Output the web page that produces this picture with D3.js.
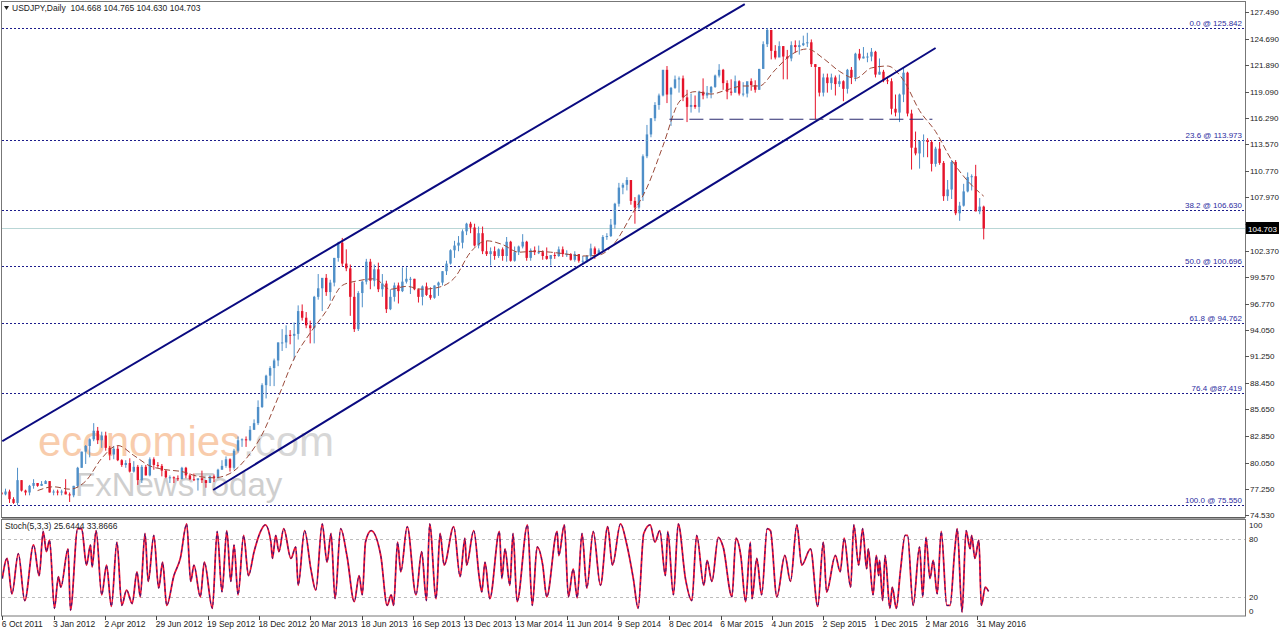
<!DOCTYPE html>
<html><head><meta charset="utf-8">
<script src="https://cdn.jsdelivr.net/npm/d3@7"></script>
<style>
html,body{margin:0;padding:0;background:#fff;}
svg{display:block;font-family:"Liberation Sans",Arial,sans-serif;}
</style></head><body>
<svg id="c" width="1280" height="633"></svg>
<script>
// ---------- DATA ----------
const firstOpen = 76.9;
// weekly candles, week 0 = week of 3 Oct 2011
const weekHigh = [
77.0,77.3,77.2,76.4,79.5,78.2,77.2,77.7,78.3,77.9,78.1,78.2,78.1,
77.2,77.2,77.2,78.3,76.9,77.6,79.6,81.2,81.9,82.6,84.2,83.8,83.3,
83.3,81.8,81.8,81.8,80.4,80.3,80.5,80.2,79.8,79.8,79.8,80.6,80.6,
80.1,79.9,79.3,78.7,78.6,78.7,79.6,79.6,78.9,78.9,78.3,79.2,78.2,
78.7,78.8,79.4,80.3,80.7,80.5,81.5,82.8,82.6,82.8,83.9,84.6,86.6,
88.4,89.3,90.2,91.0,92.7,94.1,94.5,94.0,94.8,96.6,96.7,95.9,95.0,
97.6,99.9,99.0,99.9,99.3,101.6,103.3,103.7,102.5,100.9,99.0,98.1,99.2,
101.5,101.5,100.9,101.1,99.9,99.2,98.3,99.0,99.0,100.6,100.6,99.6,99.4,
98.3,98.7,99.0,98.5,98.7,99.1,100.2,101.3,102.5,103.4,103.9,104.6,105.3,
105.4,105.2,104.9,104.9,103.4,102.7,102.8,102.6,102.7,103.8,103.4,102.8,102.9,
104.1,103.4,102.6,102.8,102.9,102.4,102.7,101.7,102.2,102.8,102.8,102.4,102.1,
102.3,102.0,101.8,101.9,103.1,102.8,102.6,104.0,104.2,105.7,107.4,109.5,109.5,
110.1,109.2,108.0,108.3,112.5,115.6,116.3,118.0,118.9,121.4,121.8,119.6,120.8,
120.7,120.8,119.3,118.9,118.7,119.2,120.5,119.7,119.7,120.9,122.0,121.5,120.3,
120.4,120.8,120.3,120.1,120.1,120.5,120.3,121.5,124.4,125.8,125.6,124.0,124.4,
123.9,123.5,124.4,124.5,124.5,125.0,125.3,124.6,122.0,121.7,121.0,121.0,121.0,
120.8,120.9,120.3,121.5,121.7,123.2,123.6,123.8,123.2,123.7,123.4,122.6,121.4,
120.7,120.5,118.8,118.9,121.7,121.2,117.2,114.9,113.9,114.6,114.2,114.0,113.3,
113.8,111.8,109.8,111.9,111.9,107.5,109.4,110.6,110.4,111.4,107.9,107.1];
const weekLow = [
76.3,76.6,75.8,75.7,75.55,77.0,76.6,76.6,77.3,77.5,77.6,77.8,76.9,
76.6,76.6,76.6,76.7,75.9,76.4,77.4,79.5,79.9,80.6,82.3,82.0,81.6,
81.3,80.3,80.4,80.2,79.6,79.5,79.0,79.0,77.7,77.9,78.7,78.6,79.3,
79.5,78.6,78.4,77.9,77.9,78.1,78.3,78.4,78.2,78.1,77.1,77.9,77.4,
77.9,78.0,78.4,79.3,79.5,79.1,79.3,81.1,81.7,81.7,82.3,83.5,84.0,
85.8,86.8,88.1,88.1,90.2,91.8,92.1,92.5,90.9,93.0,95.0,94.2,92.6,
92.6,97.2,96.0,97.6,97.1,98.6,101.2,100.7,100.2,95.5,93.8,93.9,96.4,
98.8,98.3,98.6,98.0,97.5,95.8,96.1,97.0,96.8,98.0,98.9,97.8,98.2,
96.9,96.6,97.6,97.2,97.3,97.6,98.7,99.8,100.9,101.6,102.3,102.6,104.0,
104.2,102.8,102.6,102.0,101.8,100.8,101.4,101.6,101.3,101.2,101.2,101.2,101.9,
102.6,101.3,101.3,101.9,102.0,101.4,101.4,100.8,101.5,101.7,101.7,101.7,101.3,
101.2,101.1,101.0,101.1,101.6,101.5,101.9,102.3,103.5,103.8,104.7,107.0,108.3,
108.7,107.2,105.2,106.7,107.6,112.1,114.3,116.0,117.2,118.6,117.9,115.5,119.4,
119.0,118.1,115.9,116.9,117.3,116.9,118.3,118.4,118.4,119.5,120.6,119.3,118.3,
118.7,119.0,118.7,118.6,118.5,119.2,119.0,119.3,121.5,123.8,122.5,122.5,122.8,
120.4,120.4,122.3,123.2,123.0,123.9,123.8,121.7,116.2,118.6,118.6,119.0,119.3,
118.7,119.6,118.1,118.9,119.9,120.2,122.4,122.6,122.2,122.3,120.6,120.9,120.1,
119.9,116.7,116.5,115.9,118.0,116.5,110.9,112.4,111.0,112.2,112.2,110.7,111.2,
111.4,107.6,107.6,107.8,106.1,105.5,107.0,108.5,108.7,106.5,106.2,103.55];
const weekClose = [
76.7,77.0,76.2,75.8,78.2,77.1,76.9,77.6,77.9,77.6,77.8,78.1,76.9,
77.0,76.9,77.0,76.7,76.6,77.6,79.5,81.2,81.8,82.5,83.4,82.4,82.9,
81.6,80.9,81.5,80.3,79.8,80.0,79.1,79.6,78.2,79.6,78.7,80.4,79.8,
79.7,79.2,78.5,78.5,78.4,78.3,79.5,78.7,78.3,78.2,78.4,78.2,77.9,
78.6,78.4,79.3,79.7,80.4,79.5,81.3,82.4,82.5,82.4,83.5,84.2,85.9,
88.2,89.2,90.0,90.8,92.7,92.7,93.5,93.4,93.6,96.0,95.3,94.5,94.2,
97.5,98.4,99.5,98.0,99.0,101.6,103.2,101.0,100.5,97.5,94.1,97.9,99.1,
101.2,99.2,100.4,98.3,98.9,96.2,97.5,98.7,98.1,99.1,99.4,99.4,98.3,
97.5,98.6,97.7,97.4,98.7,99.0,100.2,101.0,102.4,102.9,103.2,104.4,105.2,
104.8,102.9,104.2,102.3,102.0,102.3,101.8,102.5,101.8,103.3,101.3,102.2,102.8,
103.3,101.6,102.4,102.2,102.2,101.8,101.5,101.9,101.8,102.5,102.0,102.0,101.4,
102.0,101.3,101.3,101.8,102.6,102.0,102.4,103.8,103.9,105.1,107.3,109.0,109.3,
109.8,107.6,106.9,108.2,112.3,114.6,116.3,117.7,118.7,121.4,118.8,119.5,120.4,
120.5,118.5,117.5,117.7,117.5,119.1,118.7,119.0,119.6,120.8,121.4,120.0,119.1,
119.0,120.2,118.9,118.9,120.2,119.8,119.3,121.5,124.1,125.6,123.4,122.7,123.9,
122.8,122.6,124.0,123.8,124.0,124.2,124.3,122.0,121.7,119.0,120.6,120.0,120.6,
119.9,120.2,119.4,121.4,120.6,123.1,122.6,122.8,122.8,123.3,120.9,121.2,120.3,
120.2,117.3,116.9,118.8,121.1,116.8,113.2,112.6,113.9,114.0,113.8,111.5,113.1,
111.6,108.1,108.8,111.7,106.3,107.1,108.6,110.1,110.2,106.5,107.0,104.7];

// moving average (dashed) read every 4 weeks
const maWeek = [9,13,17,21,25,29,33,37,41,45,49,53,57,61,65,69,73,77,81,85,89,93,97,101,105,109,113,117,121,125,129,133,137,141,145,149,153,157,161,165,169,173,177,181,185,189,193,197,201,205,209,213,217,221,225,229,233,237,241,245];
const maValue = [77.1,77.5,77.25,78.1,80.5,81.85,80.8,79.7,79.3,79.1,78.6,78.45,78.9,80.45,83.0,86.9,91.0,93.7,96.0,98.7,99.2,99.4,98.3,98.6,98.3,98.5,99.5,102.2,103.4,103.0,102.2,102.3,102.2,102.0,101.8,101.9,103.2,106.0,109.0,113.4,118.0,119.1,118.85,119.3,119.7,119.7,121.4,123.0,123.6,122.6,121.25,120.5,121.6,121.8,120.3,117.1,114.9,111.9,109.7,108.1];

// stochastic (5,3,3): bar index and value at turning points
const stochBar = [0,6,12,20,28,39,46,51,55,59,65,70,73,82,85,94,99,105,110,112,117,124,130,136,143,149,155,162,168,172,178,182,189,195,200,205,214,222,230,235,239,247,252,262,268,274,280,285,289,294,301,307,314,322,328,335,337,341,345,351,360,366,369,377,385,391,399,405,410,415,422,430,439,445,449,453,460,472,480,485,488,493,497,505,516,523,529,533,541,546,551,563,571,577,579,588,595,598,602,608,620,623,627,633,637,642,655,661,667,674,679,692,694,701,706,712,717,723,729,737,746,755,761,771,779,787,793,800,808,814,820,827,830,837,843,852,860,866,875,879,885,893,899,910,915,921,927,933,935,941,947,954,958,966,976,983,991,997,1008,1017,1024,1028,1039,1045,1050,1058,1062,1068,1073,1078,1080,1086,1090,1093,1094,1098,1101,1107,1110,1115,1120,1126,1129,1136,1144,1148,1152,1157,1161,1166,1171,1178,1182,1188,1191,1197,1202,1207,1209,1213,1218,1221,1226,1230];
const stochMain = [39,60,23,65,16,74,42,88,67,79,8,41,30,70,6,91,91,53,74,51,89,22,53,10,77,11,27,13,46,20,86,36,84,29,56,11,42,60,96,36,53,20,56,8,88,25,89,36,74,22,84,42,67,88,95,77,60,84,67,91,60,72,32,89,48,27,96,56,86,18,91,62,15,42,22,77,89,63,11,22,11,77,46,93,22,67,16,96,18,86,53,93,41,81,53,89,39,25,56,18,88,39,70,32,86,15,95,11,72,53,20,88,63,95,20,49,19,86,29,88,32,93,53,96,74,39,8,86,95,77,89,42,88,22,96,39,16,84,32,58,36,82,72,20,81,63,15,77,18,60,22,91,89,20,63,36,95,53,70,10,77,25,63,46,81,30,95,53,91,49,70,22,63,42,58,16,63,8,30,8,46,84,84,11,72,20,82,39,58,23,88,11,11,70,91,4,89,70,84,60,79,11,30,25.6];

// axes / labels
const priceTicks = [127.490,124.690,121.890,119.090,116.290,113.570,110.770,107.970,105.170,102.370,99.570,96.770,94.050,91.250,88.450,85.650,82.850,80.050,77.250,74.530];
const dateLabels = ["6 Oct 2011","3 Jan 2012","2 Apr 2012","29 Jun 2012","19 Sep 2012","18 Dec 2012","20 Mar 2013","18 Jun 2013","16 Sep 2013","13 Dec 2013","13 Mar 2014","11 Jun 2014","9 Sep 2014","8 Dec 2014","6 Mar 2015","4 Jun 2015","2 Sep 2015","1 Dec 2015","2 Mar 2016","31 May 2016"];
const dateLabelBar = [0,64,128,192,256,320,384,448,512,576,640,704,768,832,896,960,1024,1088,1152,1216];
const fibLevel = [125.842,113.973,106.630,100.696,94.762,87.419,75.550];
const fibText = ["0.0 @ 125.842","23.6 @ 113.973","38.2 @ 106.630","50.0 @ 100.696","61.8 @ 94.762","76.4 @87.419","100.0 @ 75.550"];
const stochTicks = [100,80,20,0];
const stochLevels = [80,20];
const lastPrice = 104.703;
const titleText = "USDJPY,Daily  104.668 104.765 104.630 104.703";
const stochTitle = "Stoch(5,3,3) 25.6444 33.8666";
// drawn objects: [bar, price]
const upperChannel = [[0,82.3],[926,128.33]];
const lowerChannel = [[263,77.16],[1164,123.7]];
const supportLine = [[832,116.2],[1160,116.2]];

// ---------- LAYOUT ----------
const svg = d3.select("#c");
const L = 2, R = 1245, T = 1, B = 517, ST = 519.5, SB = 616;
const x = d3.scaleLinear().domain([0,1216]).range([2.3,977.3]);
const y = d3.scaleLinear().domain([74.53,127.49]).range([515,12]);
const ys = d3.scaleLinear().domain([0,100]).range([616,520]);
const weekBar = w => 5*w - 1;
const FS = 8;

svg.append("rect").attr("width",1280).attr("height",633).attr("fill","#fff");
const defs = svg.append("defs");
defs.append("clipPath").attr("id","mainClip").append("rect").attr("x",L).attr("y",T).attr("width",R-L).attr("height",B-T);
defs.append("clipPath").attr("id","stClip").append("rect").attr("x",L).attr("y",ST).attr("width",R-L).attr("height",SB-ST);
const ly = Math.round(y(lastPrice));
defs.append("clipPath").attr("id","axClip").append("rect").attr("x",R).attr("y",0).attr("width",1280-R).attr("height",ly-6);
defs.append("clipPath").attr("id","axClip2").append("rect").attr("x",R).attr("y",ly+6).attr("width",1280-R).attr("height",B-ly);

// watermark
const wm = svg.append("g").attr("opacity",0.55);
wm.append("text").attr("x",38).attr("y",456).attr("font-size",42).attr("fill","#f4a46a").text("economies");
wm.append("text").attr("x",243).attr("y",456).attr("font-size",42).attr("fill","#b8b8b8").text(".com");
wm.append("text").attr("x",75).attr("y",496).attr("font-size",33).attr("fill","#a8a8a8").text("FxNewsToday");

const main = svg.append("g").attr("clip-path","url(#mainClip)");

// fib lines
main.selectAll(".fib").data(fibLevel).join("line")
  .attr("x1",L).attr("x2",R).attr("y1",d=>Math.round(y(d))+0.5).attr("y2",d=>Math.round(y(d))+0.5)
  .attr("stroke","#1c1c8c").attr("stroke-width",1).attr("stroke-dasharray","2,2");
svg.selectAll(".fibt").data(fibLevel).join("text")
  .attr("x",R-3).attr("y",d=>Math.round(y(d))-2).attr("text-anchor","end")
  .attr("font-size",FS).attr("fill","#2b2ba0").text((d,i)=>fibText[i]);

// last price line
main.append("line").attr("x1",L).attr("x2",R).attr("y1",ly+0.5).attr("y2",ly+0.5)
  .attr("stroke","#b9d6d6").attr("stroke-width",1);

// candles
const candles = weekClose.map((c,i)=>({w:i,o:i===0?firstOpen:weekClose[i-1],h:weekHigh[i],l:weekLow[i],c:c}));
const upCol = "#4f8fc8", dnCol = "#e5132a";
const cg = main.append("g");
cg.selectAll(".wick").data(candles).join("line")
  .attr("x1",d=>x(weekBar(d.w))).attr("x2",d=>x(weekBar(d.w)))
  .attr("y1",d=>y(d.h)).attr("y2",d=>y(d.l))
  .attr("stroke",d=>d.c>=d.o?upCol:dnCol).attr("stroke-width",1);
cg.selectAll(".body").data(candles).join("rect")
  .attr("x",d=>x(weekBar(d.w))-1.2).attr("width",2.4)
  .attr("y",d=>y(Math.max(d.o,d.c))).attr("height",d=>Math.max(1,Math.abs(y(d.o)-y(d.c))))
  .attr("fill",d=>d.c>=d.o?upCol:dnCol);

// moving average
main.append("path").datum(maWeek.map((w,i)=>[weekBar(w),maValue[i]]))
  .attr("d",d3.line().x(d=>x(d[0])).y(d=>y(d[1])).curve(d3.curveMonotoneX))
  .attr("fill","none").attr("stroke","#9a4a3a").attr("stroke-width",1).attr("stroke-dasharray","6,3");

// channel lines
const seg = d3.line().x(d=>x(d[0])).y(d=>y(d[1]));
[upperChannel, lowerChannel].forEach(p=>{
  main.append("path").datum(p).attr("d",seg).attr("stroke","#0a0a80").attr("stroke-width",2).attr("fill","none");
});
main.append("path").datum(supportLine).attr("d",seg).attr("stroke","#2a2a70").attr("stroke-width",1.2)
  .attr("stroke-dasharray","14,6").attr("fill","none");

// frames
svg.append("rect").attr("x",L-0.5).attr("y",T+0.5).attr("width",R-L+1).attr("height",B-T).attr("fill","none").attr("stroke","#777").attr("stroke-width",1);
svg.append("rect").attr("x",L-0.5).attr("y",ST).attr("width",R-L+1).attr("height",SB-ST).attr("fill","none").attr("stroke","#777").attr("stroke-width",1);
svg.append("line").attr("x1",L).attr("x2",R).attr("y1",B+1).attr("y2",B+1).attr("stroke","#444").attr("stroke-width",1);

// right price axis
const ax = svg.append("g");
ax.selectAll("line").data(priceTicks).join("line")
  .attr("x1",R).attr("x2",R+4).attr("y1",d=>Math.round(y(d))+0.5).attr("y2",d=>Math.round(y(d))+0.5).attr("stroke","#555");
ax.selectAll("text").data(priceTicks).join("text")
  .attr("clip-path",d=>Math.abs(y(d)-ly)<10?"url(#axClip)":null)
  .attr("x",R+5).attr("y",d=>y(d)+3).attr("font-size",FS).attr("fill","#222").text(d=>d.toFixed(3));
// last price box
svg.append("rect").attr("x",R+1).attr("y",ly-6).attr("width",33).attr("height",12).attr("fill","#000");
svg.append("text").attr("x",R+3).attr("y",ly+3.5).attr("font-size",FS).attr("fill","#fff").text(lastPrice.toFixed(3));

// title
svg.append("path").attr("d","M4,6 L9,6 L6.5,10 Z").attr("fill","#222");
svg.append("text").attr("x",12).attr("y",11).attr("font-size",8.5).attr("fill","#222").attr("xml:space","preserve").text(titleText);

// stochastic panel
const st = svg.append("g").attr("clip-path","url(#stClip)");
st.selectAll(".lvl").data(stochLevels).join("line")
  .attr("x1",L).attr("x2",R).attr("y1",d=>Math.round(ys(d))+0.5).attr("y2",d=>Math.round(ys(d))+0.5)
  .attr("stroke","#bdbdbd").attr("stroke-dasharray","3,3");
const stPts = stochBar.map((b,i)=>[b,stochMain[i]]);
const sline = d3.line().x(d=>x(d[0])).y(d=>ys(d[1])).curve(d3.curveMonotoneX);
st.append("path").datum(stPts).attr("d",sline).attr("fill","none").attr("stroke","#ee1133").attr("stroke-width",1.8);
st.append("path").datum(stPts).attr("d",sline).attr("fill","none").attr("stroke","#1a1a88").attr("stroke-width",0.9).attr("stroke-dasharray","3,3");
svg.append("text").attr("x",5).attr("y",529).attr("font-size",8.5).attr("fill","#222").text(stochTitle);
svg.selectAll(".stt").data(stochTicks).join("text")
  .attr("x",R+4).attr("y",d=>d===100?ys(d)+8:(d===0?ys(d)-2:ys(d)+3)).attr("font-size",FS).attr("fill","#222").text(d=>d);

// x axis
const xa = svg.append("g");
xa.selectAll("line").data(dateLabelBar).join("line")
  .attr("x1",d=>Math.round(x(d))+0.5).attr("x2",d=>Math.round(x(d))+0.5).attr("y1",SB).attr("y2",SB+4).attr("stroke","#444");
xa.selectAll("text").data(dateLabelBar).join("text")
  .attr("x",d=>x(d)-0.5).attr("y",627).attr("font-size",8.5).attr("fill","#222").text((d,i)=>dateLabels[i]);
</script>
</body></html>
